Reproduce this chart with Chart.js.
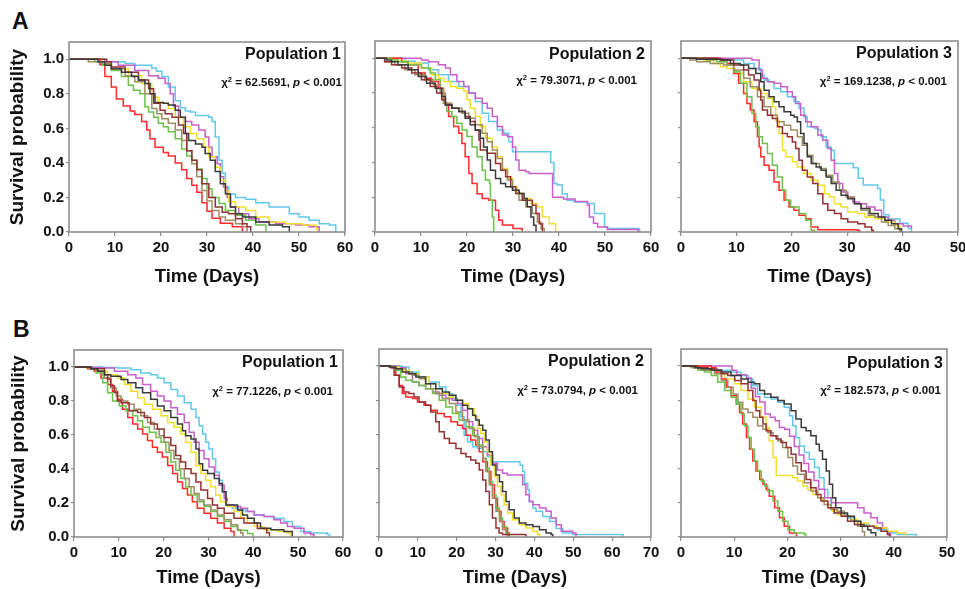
<!DOCTYPE html>
<html><head><meta charset="utf-8">
<script src="https://cdn.jsdelivr.net/npm/chart.js@4.4.1/dist/chart.umd.min.js"></script>
<style>
html,body{margin:0;padding:0;background:#fff;}
body{width:965px;height:589px;position:relative;overflow:hidden;font-family:"Liberation Sans",Arial,sans-serif;}
canvas{position:absolute;}
.t{position:absolute;font-weight:bold;color:#111;white-space:nowrap;}
.pop{font-size:16px;line-height:16px;}
.chi{font-size:11.5px;line-height:12px;}
.chi sup{font-size:0.65em;vertical-align:0.5em;line-height:0;}
.pl{font-size:23px;line-height:23px;}
</style></head><body>
<div class="t pl" style="left:12px;top:10px">A</div>
<div class="t pl" style="left:13px;top:318px">B</div>
<script>
// ---------------- DATA ----------------
const popLabels = ['Population 1','Population 2','Population 3','Population 1','Population 2','Population 3'];
const chiValues = ['62.5691','79.3071','169.1238','77.1226','73.0794','182.573'];
const pValueText = '< 0.001';
const yTicks = [0,0.2,0.4,0.6,0.8,1.0];
const yTickLabels = ['0.0','0.2','0.4','0.6','0.8','1.0'];
const xTicks60 = [0,10,20,30,40,50,60];
const xTicks50 = [0,10,20,30,40,50];
const xTicks70 = [0,10,20,30,40,50,60,70];
const yTitle = 'Survival probability';
const xTitle = 'Time (Days)';

// Panel A1
const A1_red=[[0,1],[6.7,0.97],[7.8,0.9],[9.2,0.84],[10.3,0.77],[11.8,0.73],[13.3,0.7],[14.3,0.68],[15.8,0.64],[16.9,0.59],[17.6,0.54],[18.7,0.49],[20.5,0.46],[21.6,0.44],[23.1,0.4],[24.5,0.36],[25.6,0.31],[26.7,0.27],[27.8,0.23],[28.9,0.17],[30,0.12],[31.1,0.08],[32.9,0.05],[35.5,0.03],[37.7,0]];
const A1_cyan=[[0,1],[7.1,0.985],[12.2,0.975],[14.3,0.965],[18,0.95],[19,0.93],[20.2,0.9],[21.6,0.84],[23.1,0.76],[24.2,0.72],[25.3,0.7],[26.4,0.695],[27.5,0.675],[30.4,0.665],[31.1,0.64],[31.8,0.55],[32.6,0.415],[33.3,0.34],[34,0.26],[34.7,0.22],[36.2,0.2],[38.4,0.19],[40.6,0.17],[43.5,0.145],[47.9,0.105],[50,0.087],[52.2,0.068],[54.4,0.048],[56.6,0.04],[58,0]];
const A1_magenta=[[0,1],[7.8,0.985],[10.7,0.965],[14.3,0.935],[17.3,0.905],[19.4,0.89],[20.9,0.86],[22,0.8],[22.7,0.73],[23.8,0.665],[25.3,0.64],[26.7,0.62],[28.2,0.59],[29.6,0.55],[30.4,0.49],[31.1,0.435],[32.2,0.395],[32.9,0.32],[33.6,0.26],[34.4,0.2],[35.1,0.145],[36.9,0.105],[39.1,0.077],[41.3,0.058],[44.9,0.048],[49.3,0.04],[52.2,0.03],[54.4,0]];
const A1_black=[[0,1],[6.3,0.985],[7.8,0.965],[9.2,0.945],[11.4,0.925],[13.6,0.9],[15.1,0.88],[16.5,0.86],[17.6,0.8],[18.7,0.75],[20.5,0.745],[21.6,0.735],[23.1,0.705],[24.2,0.665],[25.3,0.57],[26,0.53],[27.5,0.51],[28.9,0.49],[29.6,0.455],[30.7,0.415],[31.8,0.35],[32.9,0.28],[34,0.22],[35.1,0.145],[36.2,0.105],[37.7,0.087],[40.6,0.058],[43.5,0.04],[46.4,0.03],[47.9,0]];
const A1_yellow=[[0,1],[7.1,0.97],[9.2,0.945],[12.9,0.905],[15.8,0.86],[18,0.78],[19.4,0.745],[21.6,0.715],[23.1,0.665],[24.9,0.61],[26.4,0.57],[27.8,0.54],[29.3,0.49],[30.4,0.435],[31.8,0.375],[32.9,0.3],[34,0.24],[34.7,0.175],[36.2,0.145],[38.4,0.125],[40.6,0.087],[43.5,0.058],[47.1,0.048],[50.8,0.04],[53.7,0.02],[54,0]];
const A1_green=[[0,1],[5.6,0.985],[7.1,0.965],[9.2,0.935],[11.4,0.9],[12.9,0.85],[14,0.82],[15.4,0.8],[16.5,0.725],[17.3,0.695],[18.4,0.665],[19.4,0.63],[20.5,0.61],[21.6,0.58],[23.1,0.54],[24.5,0.48],[25.6,0.44],[26.7,0.415],[27.8,0.365],[28.9,0.31],[30,0.25],[31.1,0.2],[32.6,0.165],[34,0.125],[36.2,0.097],[38.4,0.068],[40.6,0.04],[42.8,0]];
const A1_olive=[[0,1],[4.2,0.985],[7.1,0.975],[9.2,0.945],[12.2,0.905],[14.3,0.87],[16.5,0.8],[18,0.715],[19.1,0.685],[20.2,0.655],[21.6,0.63],[23.1,0.59],[24.5,0.53],[25.6,0.47],[26.7,0.395],[27.8,0.32],[28.9,0.24],[30,0.18],[31.1,0.125],[32.6,0.087],[34,0.068],[36.2,0.048],[37.7,0.03],[38.7,0]];
const A1_maroon=[[0,1],[8.2,0.985],[9.2,0.955],[12.2,0.925],[15.1,0.88],[17.3,0.83],[18.4,0.745],[19.8,0.705],[20.9,0.685],[22.4,0.665],[23.8,0.62],[24.9,0.57],[25.6,0.47],[26.7,0.415],[27.8,0.36],[28.9,0.28],[30.4,0.2],[31.8,0.145],[33.3,0.115],[34.7,0.105],[36.2,0.077],[37.7,0.048],[38.7,0.03],[39.5,0]];

// Panel A2
const A2_red=[[0,1],[5.8,0.98],[7.2,0.963],[9.4,0.915],[10.9,0.886],[12.3,0.867],[13.8,0.828],[14.9,0.742],[16,0.665],[17.1,0.607],[18.2,0.568],[18.9,0.51],[19.6,0.434],[20.4,0.337],[21.1,0.28],[22.2,0.22],[23.3,0.193],[24.7,0.183],[26.2,0.125],[26.9,0.067],[27.7,0.04],[30,0.02],[32,0]];
const A2_green=[[0,1],[3.6,0.99],[5,0.98],[7.2,0.963],[10.1,0.944],[12,0.915],[13.1,0.877],[14.2,0.82],[14.9,0.742],[15.6,0.694],[16.7,0.665],[17.8,0.626],[18.9,0.588],[20,0.55],[21.1,0.49],[22.2,0.434],[23.3,0.356],[24,0.3],[24.9,0.28],[25.1,0.183],[25.5,0.087],[25.8,0]];
const A2_magenta=[[0,1],[10.1,0.99],[11.6,0.98],[13.8,0.963],[15.3,0.944],[16.4,0.906],[17.8,0.867],[19.3,0.838],[20.4,0.8],[21.8,0.77],[23.3,0.742],[24.4,0.713],[25.5,0.665],[26.6,0.607],[27.7,0.559],[28.8,0.549],[29.9,0.49],[30.6,0.414],[31.3,0.356],[32.8,0.347],[33.5,0.337],[38.6,0.2],[41,0.19],[43.5,0.175],[46.2,0.154],[46.6,0.087],[47.5,0.05],[48.4,0.029],[50.5,0.015],[57.2,0]];
const A2_cyan=[[0,1],[6.5,0.985],[8.7,0.973],[11.6,0.934],[13.8,0.906],[16,0.867],[18.2,0.838],[20.4,0.8],[21.8,0.751],[23.3,0.684],[24.7,0.636],[26.6,0.588],[28,0.568],[29.1,0.52],[29.9,0.462],[38.2,0.4],[38.9,0.28],[39.6,0.27],[40.7,0.22],[41.8,0.183],[43.3,0.173],[46.2,0.164],[47.7,0.106],[49.9,0.029],[50.6,0.02],[57.5,0]];
const A2_yellow=[[0,1],[5,0.985],[7.2,0.973],[10.1,0.944],[12.3,0.906],[13.8,0.886],[14.9,0.867],[16.4,0.838],[17.8,0.828],[19.3,0.81],[20,0.761],[20.7,0.713],[21.8,0.665],[22.9,0.607],[24,0.54],[25.5,0.49],[26.6,0.434],[27.7,0.366],[28.8,0.308],[29.9,0.26],[30.9,0.222],[32.4,0.193],[33.9,0.164],[35.3,0.145],[36.4,0.087],[37.9,0.048],[39.3,0]];
const A2_black=[[0,1],[2.5,0.99],[3.6,0.98],[5,0.963],[7.2,0.934],[9.4,0.896],[11.2,0.857],[13.1,0.828],[14.5,0.78],[15.3,0.732],[16.7,0.713],[18.2,0.694],[19.6,0.655],[20.7,0.617],[21.8,0.588],[22.9,0.54],[23.6,0.49],[24.4,0.414],[25.1,0.356],[26.2,0.308],[27.3,0.28],[28.4,0.26],[29.9,0.241],[31.3,0.222],[32.4,0.193],[33.1,0.145],[33.9,0.087],[34.5,0.039],[35,0]];
const A2_maroon=[[0,1],[2.1,0.98],[3.6,0.963],[5.8,0.944],[8,0.915],[10.1,0.877],[12,0.838],[13.4,0.8],[14.5,0.761],[15.3,0.732],[16.7,0.713],[18.2,0.694],[19.6,0.665],[20.7,0.636],[21.8,0.588],[22.6,0.53],[22.9,0.472],[24.4,0.453],[26.2,0.395],[27.3,0.356],[28.4,0.318],[29.5,0.26],[30.6,0.222],[32,0.183],[34.2,0.154],[35,0.106],[35.7,0.048],[36.4,0]];
const A2_olive=[[0,1],[2.1,0.98],[4.3,0.963],[6.5,0.934],[8.7,0.906],[10.9,0.877],[12.7,0.848],[14.2,0.8],[15.3,0.742],[16.7,0.713],[18.9,0.684],[20.4,0.655],[21.8,0.617],[23.3,0.568],[24.4,0.52],[25.5,0.472],[26.6,0.424],[27.7,0.356],[28.8,0.299],[29.9,0.241],[31.3,0.183],[32.8,0.145],[34.2,0.106],[35.3,0.058],[36.1,0.02],[36.8,0]];

// Panel A3
const A3_red=[[0,1],[7.1,0.99],[8.3,0.971],[9.5,0.913],[10.4,0.856],[11.3,0.798],[11.9,0.74],[12.5,0.702],[13.2,0.635],[13.8,0.548],[14.1,0.49],[14.4,0.433],[15,0.385],[15.9,0.356],[16.8,0.288],[17.7,0.24],[18.6,0.183],[19.5,0.144],[20.4,0.125],[21.3,0.096],[22.5,0.077],[23.5,0.029],[24.7,0.013],[31.9,0.01],[32.2,0]];
const A3_green=[[0,1],[4.7,0.99],[6.5,0.981],[8.3,0.962],[9.5,0.923],[10.7,0.856],[11.9,0.779],[12.8,0.683],[13.5,0.606],[14.1,0.548],[14.7,0.51],[15.6,0.452],[16.5,0.385],[17.4,0.317],[18.3,0.24],[18.9,0.183],[19.8,0.144],[21.3,0.106],[22.5,0.067],[23.5,0.01],[24.1,0]];
const A3_magenta=[[0,1],[12.8,0.99],[14.1,0.933],[14.7,0.885],[15.6,0.865],[16.8,0.856],[18,0.837],[19.2,0.808],[20.1,0.779],[20.7,0.74],[21.6,0.673],[22.5,0.635],[23.5,0.606],[24.7,0.558],[25.6,0.529],[26.5,0.481],[27.1,0.413],[27.7,0.337],[28.3,0.279],[29.2,0.231],[30.1,0.202],[31,0.173],[32.2,0.163],[33.5,0.144],[35,0.125],[36.2,0.087],[37.4,0.067],[38.6,0.048],[40.1,0.035],[41.6,0.02]];
const A3_cyan=[[0,1],[7.1,0.995],[8.9,0.99],[11.3,0.971],[13.2,0.942],[14.4,0.904],[15,0.875],[15.9,0.865],[16.8,0.827],[18,0.808],[19.2,0.779],[20.4,0.75],[21.3,0.712],[22.2,0.663],[22.8,0.606],[24.1,0.596],[24.7,0.587],[25.3,0.548],[26.2,0.49],[27.1,0.471],[27.7,0.394],[31.1,0.37],[32,0.31],[32.9,0.27],[35.5,0.25],[36,0.185],[36.6,0.1],[37.5,0.075],[39.5,0.05],[41,0.02],[41.6,0]];
const A3_black=[[0,1],[2.8,0.995],[7.1,0.99],[8.9,0.971],[10.7,0.962],[12.2,0.942],[13.5,0.913],[14.4,0.865],[15,0.817],[15.9,0.779],[16.8,0.75],[17.7,0.721],[18.6,0.692],[19.8,0.673],[20.4,0.663],[21,0.635],[21.6,0.567],[22.2,0.51],[22.8,0.433],[23.5,0.394],[24.4,0.375],[25.3,0.356],[26.2,0.317],[27.1,0.279],[28,0.24],[28.9,0.212],[30.1,0.192],[31.3,0.163],[32.5,0.135],[34.1,0.106],[35.6,0.087],[36.8,0.067],[38,0.048],[39.2,0.019],[39.8,0]];
const A3_olive=[[0,1],[1.6,0.99],[2.8,0.981],[5.3,0.971],[7.7,0.962],[9.5,0.933],[11.3,0.885],[12.5,0.837],[13.8,0.779],[15,0.721],[16.2,0.673],[17.4,0.635],[18.6,0.615],[19.8,0.587],[21,0.548],[21.9,0.5],[22.8,0.442],[23.8,0.394],[25,0.365],[26.2,0.327],[27.4,0.288],[28.6,0.24],[29.8,0.202],[31.3,0.163],[32.5,0.125],[33.8,0.096],[35,0.087],[36.2,0.058],[37.4,0.038],[38.6,0.019],[39.5,0]];
const A3_maroon=[[0,1],[6.5,0.995],[7.7,0.99],[9.5,0.962],[11.3,0.933],[12.2,0.904],[13.2,0.875],[14.1,0.817],[14.4,0.76],[14.7,0.702],[15.6,0.673],[16.5,0.654],[17.4,0.606],[18.3,0.567],[19.2,0.548],[20.1,0.519],[20.7,0.481],[21.3,0.413],[21.9,0.356],[22.8,0.317],[23.8,0.279],[24.7,0.221],[25.6,0.163],[26.5,0.125],[27.7,0.106],[28.9,0.077],[30.1,0.058],[31.9,0.048],[33.2,0.029],[34.4,0.01],[34.7,0]];
const A3_yellow=[[0,1],[4.1,0.99],[5.9,0.971],[7.1,0.952],[8.3,0.942],[9.8,0.913],[11.3,0.865],[12.8,0.827],[14.4,0.798],[15.6,0.769],[16.5,0.721],[17.1,0.644],[17.7,0.567],[18.3,0.471],[18.9,0.433],[20.1,0.404],[21,0.375],[22.2,0.337],[23.5,0.298],[24.7,0.269],[25.9,0.221],[26.8,0.202],[27.7,0.163],[28.9,0.144],[30.1,0.115],[31.9,0.106],[33.2,0.087],[35,0.077],[36.8,0.058],[38.6,0.038],[39.5,0]];

// Panel B1
const B1_cyan=[[0,1],[6.8,0.997],[9.7,0.994],[12.7,0.984],[14.9,0.965],[17.1,0.955],[18.6,0.936],[20.1,0.907],[21.6,0.868],[23.1,0.829],[24.6,0.79],[26.1,0.751],[27.2,0.703],[27.9,0.654],[28.7,0.606],[29.4,0.557],[30.1,0.518],[30.9,0.46],[31.6,0.383],[32.4,0.334],[33.1,0.266],[33.9,0.188],[35.3,0.169],[36.8,0.159],[38.3,0.15],[40.2,0.13],[42.4,0.12],[44.6,0.111],[46.8,0.091],[48.7,0.062],[50.6,0.033],[52.8,0.023],[56.5,0.014],[57,0]];
const B1_magenta=[[0,1],[3.8,0.997],[6,0.994],[9,0.975],[12,0.955],[13.8,0.936],[15.3,0.897],[17.1,0.858],[18.6,0.829],[20.1,0.8],[21.6,0.761],[23.1,0.722],[24.6,0.674],[25.7,0.616],[26.8,0.557],[27.9,0.509],[29,0.46],[30.1,0.412],[31.3,0.363],[32.4,0.305],[33.5,0.227],[34.2,0.188],[35.7,0.179],[37.2,0.169],[38.7,0.15],[40.2,0.13],[42.4,0.12],[44.6,0.101],[46.1,0.082],[47.6,0.062],[49.1,0.052],[51.3,0.023],[52.8,0.014],[53.5,0]];
const B1_black=[[0,1],[3.8,0.99],[5.3,0.975],[6.8,0.955],[8.2,0.946],[10.5,0.926],[12,0.907],[13.8,0.878],[15.3,0.849],[17.1,0.81],[18.6,0.771],[20.1,0.742],[21.6,0.703],[23.1,0.664],[24.2,0.625],[24.9,0.596],[26.1,0.577],[27.2,0.518],[27.9,0.431],[28.7,0.392],[29.8,0.373],[31.3,0.344],[32.4,0.315],[33.1,0.266],[33.9,0.188],[36.5,0.159],[37.6,0.13],[38.7,0.111],[40.2,0.082],[41.6,0.052],[43.9,0.043],[46.8,0.033],[48.7,0]];
const B1_yellow=[[0,1],[3.8,0.99],[5.3,0.975],[7.5,0.955],[9.7,0.936],[11.2,0.897],[12.7,0.858],[14.2,0.819],[15.7,0.781],[17.5,0.751],[19.4,0.713],[20.9,0.674],[22.3,0.645],[23.8,0.606],[24.9,0.557],[26.1,0.499],[27.2,0.421],[28.3,0.373],[29.4,0.334],[30.5,0.295],[31.6,0.247],[32.7,0.208],[34.2,0.179],[35.7,0.15],[37.2,0.111],[38.7,0.082],[40.2,0.062],[42.4,0.043],[45.4,0.033],[47.6,0.023],[48.3,0]];
const B1_red=[[0,1],[3,0.99],[4.5,0.975],[6,0.936],[7.5,0.897],[8.6,0.858],[9.7,0.81],[10.8,0.751],[12,0.703],[13.1,0.664],[14.2,0.635],[15.3,0.606],[16.4,0.567],[17.5,0.528],[18.6,0.499],[19.7,0.47],[20.9,0.421],[22,0.373],[23.1,0.324],[24.2,0.285],[25.3,0.247],[26.4,0.208],[27.5,0.169],[29,0.14],[30.5,0.111],[32,0.082],[33.5,0.052],[35,0.033],[35.7,0]];
const B1_green=[[0,1],[3.4,0.99],[4.9,0.965],[6.4,0.907],[7.5,0.849],[8.6,0.8],[10.1,0.771],[11.6,0.742],[13.1,0.713],[14.2,0.684],[15.3,0.645],[16.8,0.616],[18.3,0.586],[19.4,0.557],[20.5,0.499],[21.6,0.441],[22.7,0.392],[23.8,0.344],[24.9,0.295],[26.1,0.247],[27.5,0.208],[29,0.179],[30.5,0.15],[32,0.12],[33.5,0.091],[35,0.062],[36.5,0.04],[38.7,0.02],[39.9,0]];
const B1_maroon=[[0,1],[3.8,0.99],[6.8,0.955],[7.5,0.93],[8.2,0.89],[9,0.85],[9.7,0.8],[10.5,0.79],[12.3,0.742],[14.2,0.732],[15.7,0.703],[17.1,0.664],[18.6,0.635],[20.1,0.586],[21.6,0.538],[22.7,0.48],[23.8,0.441],[24.9,0.402],[26.1,0.373],[27.2,0.324],[28.3,0.276],[29.8,0.227],[30.9,0.188],[32,0.169],[33.5,0.14],[35.7,0.111],[37.9,0.082],[40.9,0.05],[43,0.025],[43.6,0]];
const B1_olive=[[0,1],[3.4,0.99],[5.1,0.975],[6.8,0.936],[8.2,0.878],[9.4,0.829],[10.5,0.8],[12,0.781],[13.4,0.751],[14.9,0.713],[16.4,0.674],[17.9,0.635],[19,0.596],[20.1,0.557],[21.2,0.509],[22.3,0.46],[23.5,0.402],[24.6,0.344],[25.7,0.295],[26.8,0.256],[27.9,0.217],[29,0.188],[30.5,0.159],[32,0.13],[33.5,0.101],[35,0.072],[36.5,0.043],[37.2,0.023],[37.7,0]];

// Panel B2
const B2_red=[[0,1],[3.4,0.99],[4.3,0.946],[5.2,0.887],[6,0.839],[6.9,0.819],[8.6,0.81],[9.9,0.79],[11.6,0.771],[13.3,0.742],[15,0.722],[16.8,0.703],[18.5,0.674],[20.2,0.654],[21.5,0.635],[22.4,0.596],[23.6,0.567],[24.9,0.538],[25.8,0.499],[26.7,0.441],[27.9,0.383],[28.8,0.305],[29.7,0.227],[30.5,0.15],[31.4,0.091],[32.2,0.052],[33.1,0.023],[33.5,0]];
const B2_maroon=[[0,1],[3,0.99],[3.9,0.946],[5.2,0.878],[6.4,0.849],[7.7,0.839],[9,0.819],[10.3,0.79],[12,0.771],[13.3,0.732],[14.6,0.674],[15.5,0.616],[16.8,0.577],[18.1,0.548],[19.8,0.518],[21.1,0.489],[22.4,0.47],[23.6,0.45],[24.9,0.431],[25.8,0.392],[26.7,0.334],[27.5,0.266],[28.4,0.188],[29.2,0.111],[30.1,0.052],[30.9,0.023],[31.8,0.014],[37.8,0]];
const B2_green=[[0,1],[3.4,0.99],[4.3,0.975],[5.6,0.936],[6.9,0.917],[8.6,0.907],[10.3,0.887],[12,0.868],[13.8,0.839],[15.5,0.8],[17.2,0.761],[18.9,0.722],[20.6,0.684],[22.4,0.645],[24.1,0.596],[25.4,0.538],[26.7,0.46],[27.5,0.402],[28.4,0.324],[29.2,0.247],[30.1,0.169],[31,0.111],[31.8,0.062],[32.7,0.023],[33.1,0]];
const B2_olive=[[0,1],[3,0.995],[4.3,0.984],[6.9,0.965],[8.6,0.946],[10.3,0.926],[12,0.897],[13.3,0.868],[14.6,0.839],[16.3,0.81],[18.1,0.781],[19.8,0.732],[21.5,0.684],[23.2,0.635],[24.5,0.586],[25.8,0.528],[26.7,0.46],[27.5,0.383],[28.4,0.305],[29.2,0.227],[30.1,0.15],[31,0.091],[31.8,0.043],[32.7,0.014],[33.1,0]];
const B2_black=[[0,1],[2.6,0.995],[4.3,0.984],[6,0.965],[7.7,0.955],[9.5,0.936],[12,0.897],[14.6,0.868],[16.3,0.849],[18.1,0.829],[19.8,0.8],[21.5,0.771],[22.8,0.751],[24.1,0.713],[24.9,0.684],[25.8,0.654],[26.7,0.625],[27.5,0.567],[28.4,0.499],[29.2,0.421],[30.1,0.363],[31,0.324],[31.8,0.266],[32.7,0.208],[33.5,0.159],[34.8,0.111],[36.1,0.082],[37.8,0.072],[39.6,0.062],[41.3,0.043],[43,0.023],[44.3,0.014],[44.7,0]];
const B2_yellow=[[0,1],[3.4,0.995],[5.2,0.975],[7.7,0.955],[10.3,0.936],[12.9,0.897],[14.6,0.868],[16.3,0.839],[18.1,0.819],[19.8,0.8],[21.5,0.781],[23.2,0.751],[24.5,0.703],[25.4,0.635],[26.2,0.606],[27.1,0.557],[27.9,0.499],[28.8,0.421],[29.7,0.353],[30.5,0.295],[31.4,0.247],[32.2,0.188],[33.1,0.14],[34.4,0.101],[36.1,0.072],[37.8,0.052],[39.6,0.033],[40.8,0.014],[41.3,0]];
const B2_cyan=[[0,1],[6,0.995],[7.7,0.965],[10.3,0.936],[12.9,0.907],[15.5,0.878],[17.2,0.839],[18.9,0.81],[20.2,0.771],[21.1,0.703],[21.9,0.596],[22.8,0.557],[24.1,0.528],[25.4,0.518],[26.7,0.499],[27.9,0.47],[28.8,0.441],[36.3,0.42],[37,0.383],[37.5,0.315],[38.3,0.276],[38.7,0.208],[39.6,0.17],[40.4,0.15],[42.1,0.12],[43.9,0.09],[45.6,0.05],[47.3,0.023],[49.9,0.014],[62.8,0]];
const B2_magenta=[[0,1],[5.2,0.99],[6.9,0.955],[8.6,0.907],[10.3,0.887],[12,0.868],[13.8,0.849],[15.5,0.829],[17.2,0.81],[18.9,0.8],[20.2,0.781],[21.5,0.742],[22.8,0.674],[24.1,0.625],[25.4,0.577],[26.7,0.528],[27.9,0.48],[29.2,0.431],[30.5,0.392],[31.8,0.373],[33,0.363],[37,0.305],[37.8,0.247],[38.7,0.208],[39.6,0.188],[41.3,0.169],[43,0.15],[44.3,0.111],[45.6,0.072],[46.9,0.033],[49.9,0.023],[50.7,0]];

// Panel B3
const B3_red=[[0,1],[5.7,0.99],[6.6,0.965],[7.6,0.925],[8.5,0.876],[9.4,0.827],[10.4,0.778],[11,0.729],[11.6,0.661],[12.3,0.582],[12.9,0.514],[13.5,0.445],[14.1,0.386],[14.8,0.337],[15.4,0.308],[16,0.278],[16.6,0.239],[17.6,0.171],[18.5,0.112],[19.4,0.063],[20.4,0.024],[21.7,0]];
const B3_green=[[0,1],[2.6,0.99],[3.2,0.975],[4.4,0.965],[5.7,0.945],[6.9,0.906],[8.2,0.857],[9.4,0.818],[10.4,0.778],[11.3,0.72],[11.9,0.651],[12.6,0.582],[13.2,0.514],[13.8,0.445],[14.4,0.386],[15.1,0.327],[15.7,0.298],[16.3,0.269],[17.3,0.21],[18.2,0.151],[19.1,0.092],[20.1,0.043],[21.3,0.024],[23.2,0.014],[23.5,0]];
const B3_yellow=[[0,1],[3.2,0.99],[5.1,0.975],[6.3,0.955],[8.2,0.925],[10.1,0.896],[11.3,0.857],[12.6,0.808],[13.8,0.759],[15.1,0.7],[16,0.641],[16.6,0.563],[17.3,0.465],[17.9,0.36],[21,0.347],[21.9,0.327],[22.9,0.298],[23.8,0.278],[24.8,0.249],[25.7,0.229],[26.6,0.21],[27.6,0.171],[28.5,0.151],[29.4,0.131],[30.7,0.122],[31.9,0.102],[33.2,0.082],[35.1,0.063],[36.9,0.053],[38.8,0.033],[40.7,0.024],[42.2,0]];
const B3_olive=[[0,1],[1.9,0.99],[3.2,0.984],[4.4,0.975],[6.3,0.955],[7.6,0.916],[8.8,0.876],[9.8,0.837],[10.7,0.788],[11.6,0.749],[12.6,0.729],[13.5,0.7],[14.4,0.651],[15.4,0.631],[16.3,0.612],[17.3,0.592],[18.2,0.563],[19.1,0.524],[20.1,0.465],[21,0.416],[21.9,0.367],[23.2,0.318],[24.4,0.269],[25.7,0.229],[26.9,0.19],[28.2,0.161],[29.4,0.151],[30.7,0.122],[31.9,0.092],[33.2,0.063],[34.1,0.03],[34.5,0]];
const B3_black=[[0,1],[2.6,0.99],[3.8,0.984],[5.7,0.975],[7.6,0.965],[9.4,0.945],[11.3,0.925],[12.6,0.906],[13.8,0.896],[14.8,0.857],[15.7,0.837],[16.9,0.818],[18.2,0.798],[19.4,0.778],[20.7,0.739],[21.6,0.69],[22.6,0.641],[23.5,0.622],[24.4,0.592],[25.4,0.543],[26,0.504],[26.6,0.455],[27.3,0.386],[27.9,0.308],[28.5,0.229],[29.1,0.171],[30.1,0.141],[31.3,0.122],[32.6,0.092],[33.8,0.063],[35.1,0.043],[35.7,0.025],[36.6,0]];
const B3_cyan=[[0,1],[3.2,0.99],[4.4,0.984],[6.9,0.975],[9.4,0.965],[11.3,0.945],[12.6,0.925],[13.5,0.886],[14.4,0.837],[15.7,0.818],[16.9,0.808],[18.2,0.788],[19.4,0.759],[20.4,0.71],[21,0.651],[21.6,0.582],[22.3,0.533],[23.2,0.494],[24.1,0.455],[25.1,0.406],[26,0.347],[26.9,0.278],[27.6,0.229],[28.2,0.161],[28.8,0.141],[30.1,0.131],[31.3,0.112],[32.6,0.092],[33.8,0.073],[35.4,0.063],[36.9,0.043],[38.8,0.024],[40.7,0.014],[44.2,0]];
const B3_magenta=[[0,1],[9.6,0.975],[10.5,0.95],[12.3,0.93],[13.2,0.87],[14,0.82],[14.8,0.79],[15.8,0.72],[16.8,0.7],[17.7,0.68],[18.5,0.64],[19.5,0.63],[20.4,0.59],[21.3,0.53],[22.2,0.48],[23.1,0.43],[24,0.38],[25,0.33],[25.9,0.28],[27,0.23],[28.3,0.2],[33.2,0.171],[34.4,0.141],[35.7,0.112],[36.9,0.082],[37.9,0.053],[38.8,0.024],[39.4,0]];
const B3_maroon=[[0,1],[3.2,0.99],[5.1,0.984],[6.3,0.975],[7.6,0.955],[8.8,0.945],[10.1,0.916],[11.3,0.896],[12.6,0.857],[13.5,0.798],[14.1,0.739],[14.8,0.7],[15.4,0.661],[16,0.622],[16.9,0.592],[17.9,0.573],[18.8,0.553],[19.8,0.524],[20.7,0.484],[21.6,0.435],[22.6,0.386],[23.5,0.337],[24.4,0.288],[25.4,0.249],[26.3,0.21],[27.6,0.171],[28.8,0.141],[30.1,0.122],[31.3,0.092],[32.6,0.073],[34.4,0.063],[36.3,0.053],[37.6,0.033],[38.8,0.014],[39.2,0]];

// ---------------- STYLE / LAYOUT ----------------
const FONT = '"Liberation Sans", Arial, sans-serif';
const COLORS = {black:'#3a3a3a', maroon:'#943232', olive:'#9c8d63', green:'#6cc24a', red:'#ff2b2b', yellow:'#f0df2e', magenta:'#c95fc9', cyan:'#63c7ea'};
const ORDER = ['black','maroon','olive','green','red','yellow','magenta','cyan'];

const panels = [
  {L:69, R:345, T:41, B:232, xMax:60, xTicks:xTicks60, showY:true, ytp:7, xtb:7.7,
   s:{red:A1_red,cyan:A1_cyan,magenta:A1_magenta,black:A1_black,yellow:A1_yellow,green:A1_green,olive:A1_olive,maroon:A1_maroon},
   popR:341, popB:60, chiR:342, chiB:86},
  {L:375, R:651, T:41, B:232, xMax:60, xTicks:xTicks60, showY:false, xtb:7.7,
   s:{red:A2_red,cyan:A2_cyan,magenta:A2_magenta,black:A2_black,yellow:A2_yellow,green:A2_green,olive:A2_olive,maroon:A2_maroon},
   popR:645, popB:60, chiR:637, chiB:84},
  {L:681, R:958, T:41, B:232, xMax:50, xTicks:xTicks50, showY:false, xtb:7.7,
   s:{red:A3_red,cyan:A3_cyan,magenta:A3_magenta,black:A3_black,yellow:A3_yellow,green:A3_green,olive:A3_olive,maroon:A3_maroon},
   popR:952, popB:59, chiR:947, chiB:85},
  {L:74, R:343, T:349, B:537, xMax:60, xTicks:xTicks60, showY:true, ytp:3.5, xtb:12,
   s:{red:B1_red,cyan:B1_cyan,magenta:B1_magenta,black:B1_black,yellow:B1_yellow,green:B1_green,olive:B1_olive,maroon:B1_maroon},
   popR:338, popB:367.5, chiR:333, chiB:395},
  {L:379, R:651, T:349, B:537, xMax:70, xTicks:xTicks70, showY:false, xtb:12,
   s:{red:B2_red,cyan:B2_cyan,magenta:B2_magenta,black:B2_black,yellow:B2_yellow,green:B2_green,olive:B2_olive,maroon:B2_maroon},
   popR:644, popB:367, chiR:638, chiB:394},
  {L:681, R:947, T:349, B:537, xMax:50, xTicks:xTicks50, showY:false, xtb:12,
   s:{red:B3_red,cyan:B3_cyan,magenta:B3_magenta,black:B3_black,yellow:B3_yellow,green:B3_green,olive:B3_olive,maroon:B3_maroon},
   popR:943, popB:369, chiR:941, chiB:394}
];

const boxPlugin = {
  id:'box',
  afterDatasetsDraw(chart){
    const {ctx, chartArea:a} = chart;
    ctx.save();
    ctx.strokeStyle = '#8e8e8e';
    ctx.lineWidth = 1.6;
    ctx.strokeRect(a.left, a.top, a.right - a.left, a.bottom - a.top);
    ctx.restore();
  }
};

function addText(cls, html, right, baseline, fs){
  const d = document.createElement('div');
  d.className = 't ' + cls;
  d.innerHTML = html;
  d.style.right = (965 - right) + 'px';
  d.style.top = (baseline - 0.86*fs) + 'px';
  document.body.appendChild(d);
}

panels.forEach((p, idx) => {
  const yW = p.showY ? 70 : 10;
  const padTop = 10, padRight = 18, xH = 64;
  const w = yW + (p.R - p.L) + padRight;
  const h = padTop + (p.B - p.T) + xH;
  const cv = document.createElement('canvas');
  cv.width = w; cv.height = h;
  cv.style.left = (p.L - yW) + 'px';
  cv.style.top = (p.T - padTop) + 'px';
  document.body.appendChild(cv);

  const datasets = ORDER.map(k => ({
    label: k,
    data: p.s[k].map(([x, y]) => ({x, y})),
    borderColor: COLORS[k],
    borderWidth: 1.5,
    pointRadius: 0,
    fill: false,
    stepped: true,
    tension: 0
  }));

  new Chart(cv, {
    type: 'line',
    data: {datasets},
    plugins: [boxPlugin],
    options: {
      responsive: false, animation: false, devicePixelRatio: 1, events: [],
      layout: {padding: {top: padTop, right: padRight, left: 0, bottom: 0}},
      plugins: {legend: {display: false}, tooltip: {enabled: false}},
      scales: {
        x: {
          type: 'linear', min: 0, max: p.xMax,
          afterBuildTicks: s => { s.ticks = p.xTicks.map(v => ({value: v})); },
          afterFit: s => { s.height = xH; },
          grid: {display: true, drawOnChartArea: false, drawTicks: true, tickLength: 4, color: '#8e8e8e', lineWidth: 1.2},
          border: {display: false},
          ticks: {color: '#111', padding: 3, maxRotation: 0, autoSkip: false,
                  font: {family: FONT, size: 15, weight: 'bold'},
                  callback: v => String(v)},
          title: {display: true, text: xTitle, color: '#111',
                  font: {family: FONT, size: 18.5, weight: 'bold'},
                  padding: {top: 0, bottom: p.xtb}}
        },
        y: {
          type: 'linear', min: 0, max: 1.1,
          afterBuildTicks: s => { s.ticks = yTicks.map(v => ({value: v})); },
          afterFit: s => { s.width = yW; },
          grid: {display: true, drawOnChartArea: false, drawTicks: true, tickLength: 3, color: '#8e8e8e', lineWidth: 1.2},
          border: {display: false},
          ticks: {display: p.showY, color: '#111', padding: 2,
                  font: {family: FONT, size: 15, weight: 'bold'},
                  callback: (v) => yTickLabels[yTicks.indexOf(Math.round(v*10)/10)] ?? ''},
          title: {display: p.showY, text: yTitle, color: '#111',
                  font: {family: FONT, size: 19, weight: 'bold'},
                  padding: {top: p.ytp || 0, bottom: 0}}
        }
      }
    }
  });

  addText('pop', popLabels[idx], p.popR, p.popB, 16);
  addText('chi', '\u03C7<sup>2</sup> = ' + chiValues[idx] + ', <i>p</i> ' + pValueText.replace('<','&lt;'), p.chiR, p.chiB, 11.5);
});
</script>
</body></html>
